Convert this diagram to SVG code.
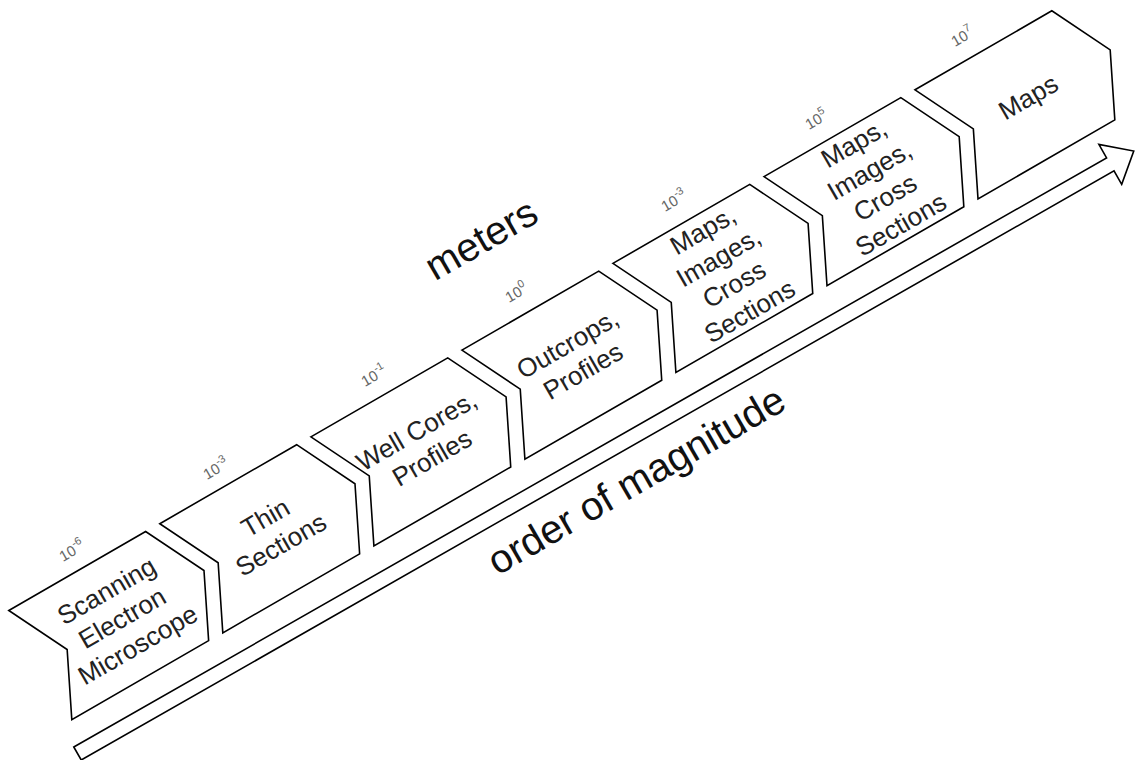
<svg xmlns="http://www.w3.org/2000/svg" width="1135" height="760" viewBox="0 0 1135 760">
<defs>
<style>
.shape{fill:#fff;stroke:#000;stroke-width:1.6;stroke-linejoin:miter}
.t{font-family:"Liberation Sans",Arial,sans-serif;font-size:26px;fill:#222;text-anchor:middle}
.lbl{font-family:"Liberation Sans",Arial,sans-serif;font-size:15px;fill:#666}
.sup{font-size:11px}
.big{font-family:"Liberation Sans",Arial,sans-serif;font-size:40px;fill:#111;text-anchor:middle}
</style>
<polygon id="step" points="0,0 158,0 189,63 158,126 0,126 31,63"/>
</defs>
<rect width="1135" height="760" fill="#fff"/>
<g id="magnitude-arrow" transform="translate(77.5,753.5) rotate(-29.7)">
<polygon class="shape" points="0,-7.5 1189,-7.5 1189,-23 1216,0 1189,23 1189,7.5 0,7.5"/>
</g>
<g id="node-sem" transform="translate(8.8,610.5) rotate(-30)">
<use href="#step" class="shape"/>
<text class="t"><tspan x="94.5" y="40.8">Scanning</tspan><tspan x="94.5" y="72">Electron</tspan><tspan x="94.5" y="103.2">Microscope</tspan></text>
</g>
<g id="node-thin" transform="translate(159.8,523.7) rotate(-30)">
<use href="#step" class="shape"/>
<text class="t"><tspan x="94.5" y="56.4">Thin</tspan><tspan x="94.5" y="87.6">Sections</tspan></text>
</g>
<g id="node-wellcores" transform="translate(310.9,436.9) rotate(-30)">
<use href="#step" class="shape"/>
<text class="t"><tspan x="94.5" y="56.4">Well Cores,</tspan><tspan x="94.5" y="87.6">Profiles</tspan></text>
</g>
<g id="node-outcrops" transform="translate(461.9,350.1) rotate(-30)">
<use href="#step" class="shape"/>
<text class="t"><tspan x="94.5" y="56.4">Outcrops,</tspan><tspan x="94.5" y="87.6">Profiles</tspan></text>
</g>
<g id="node-maps1" transform="translate(612.9,263.4) rotate(-30)">
<use href="#step" class="shape"/>
<text class="t"><tspan x="94.5" y="25.2">Maps,</tspan><tspan x="94.5" y="56.4">Images,</tspan><tspan x="94.5" y="87.6">Cross</tspan><tspan x="94.5" y="118.8">Sections</tspan></text>
</g>
<g id="node-maps2" transform="translate(764,176.6) rotate(-30)">
<use href="#step" class="shape"/>
<text class="t"><tspan x="94.5" y="25.2">Maps,</tspan><tspan x="94.5" y="56.4">Images,</tspan><tspan x="94.5" y="87.6">Cross</tspan><tspan x="94.5" y="118.8">Sections</tspan></text>
</g>
<g id="node-maps3" transform="translate(915,89.8) rotate(-30)">
<use href="#step" class="shape"/>
<text class="t"><tspan x="94.5" y="72">Maps</tspan></text>
</g>
<g id="scale-labels">
<text class="lbl" transform="translate(63,562) rotate(-30)">10<tspan class="sup" dy="-7">-6</tspan></text>
<text class="lbl" transform="translate(207,480) rotate(-30)">10<tspan class="sup" dy="-7">-3</tspan></text>
<text class="lbl" transform="translate(365,387) rotate(-30)">10<tspan class="sup" dy="-7">-1</tspan></text>
<text class="lbl" transform="translate(509,303) rotate(-30)">10<tspan class="sup" dy="-7">0</tspan></text>
<text class="lbl" transform="translate(665,212) rotate(-30)">10<tspan class="sup" dy="-7">-3</tspan></text>
<text class="lbl" transform="translate(809,130) rotate(-30)">10<tspan class="sup" dy="-7">5</tspan></text>
<text class="lbl" transform="translate(955,47) rotate(-30)">10<tspan class="sup" dy="-7">7</tspan></text>
</g>
<g id="titles">
<text class="big" transform="translate(488,251) rotate(-30)">meters</text>
<text class="big" transform="translate(643,492) rotate(-30)">order of magnitude</text>
</g>
</svg>
